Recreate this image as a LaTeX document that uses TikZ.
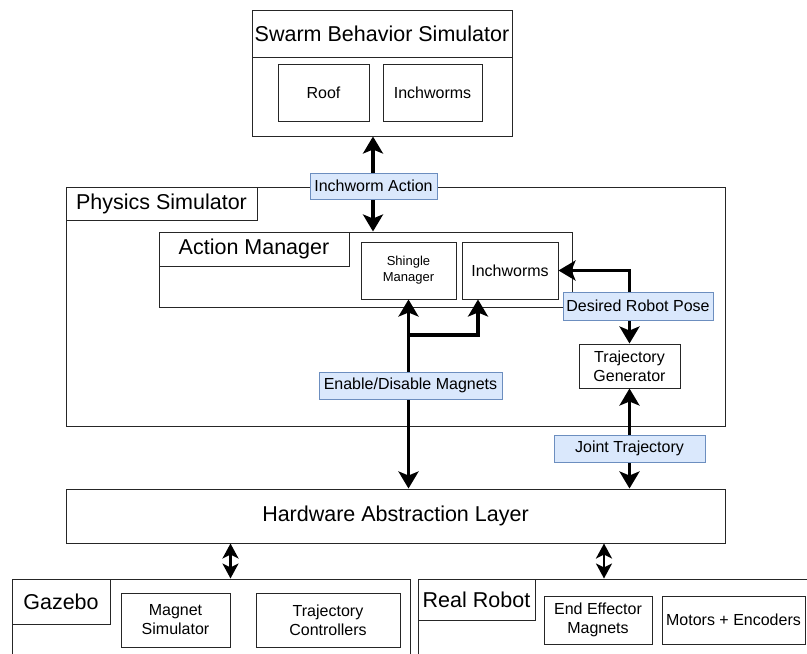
\documentclass[tikz,border=0pt]{standalone}
\usepackage{fontspec}
\setmainfont{Liberation Sans}
\usetikzlibrary{arrows.meta}
\definecolor{tagfill}{HTML}{DAE8FC}
\definecolor{tagline}{HTML}{6C8EBF}

\begin{document}
\begin{tikzpicture}[
x=1pt, y=-1pt,
box/.style={draw=black!85, line width=1pt, inner sep=0pt, align=center},
big/.style={font=\fontsize{21.5}{25}\selectfont},
small/.style={font=\fontsize{16}{19}\selectfont},
tag/.style={fill=tagfill, draw=tagline, line width=1pt, inner sep=0pt, minimum height=26pt, font=\fontsize{16}{19}\selectfont},
link/.style={line width=3.6pt, {Stealth[length=17pt,width=20pt,inset=4pt]}-{Stealth[length=17pt,width=20pt,inset=4pt]}},
linksmall/.style={line width=2.8pt, {Stealth[length=15pt,width=16pt,inset=4pt]}-{Stealth[length=15pt,width=16pt,inset=4pt]}},
]
\useasboundingbox (0,0) rectangle (807,654);
\clip (0,0) rectangle (807,654);

%% swarm layer
% nodes
\node[box, minimum width=260pt, minimum height=126pt] (swarm) at (382,73) {};
\node[box, big, minimum width=260pt, minimum height=47pt] (swarmtitle) at (382,33.5) {Swarm Behavior Simulator};
\node[box, small, minimum width=91pt, minimum height=57pt] (roof) at (323.5,92.5) {Roof};
\node[box, small, minimum width=99pt, minimum height=57pt] (swarmiw) at (432.5,92.5) {Inchworms};

%% physics simulator
% nodes
\node[box, minimum width=659pt, minimum height=239pt] (physics) at (395.5,306.5) {};
\node[box, big, minimum width=191pt, minimum height=33pt] (physicstitle) at (161.5,203.5) {Physics Simulator};
\node[box, minimum width=413pt, minimum height=75pt] (am) at (365.5,269.5) {};
\node[box, big, minimum width=190pt, minimum height=34pt] (amtitle) at (254,249) {Action Manager};
\node[box, font=\fontsize{13}{16}\selectfont, minimum width=95pt, minimum height=57pt] (shingle) at (408.5,270.5) {Shingle\\Manager};
\node[box, small, minimum width=96pt, minimum height=57pt] (iw) at (510,270.5) {Inchworms};
\node[box, small, minimum width=101pt, minimum height=44pt] (traj) at (629.5,366) {Trajectory\\Generator};

%% hardware layer
% nodes
\node[box, big, minimum width=659pt, minimum height=54pt] (hal) at (395.5,516) {Hardware Abstraction Layer};

\node[box, minimum width=398pt, minimum height=101pt] (gazebo) at (211,629.5) {};
\node[box, big, minimum width=98pt, minimum height=45pt] (gazebotitle) at (61,601.5) {Gazebo};
\node[box, small, minimum width=109pt, minimum height=54pt] (magsim) at (175.5,620) {Magnet\\Simulator};
\node[box, small, minimum width=144pt, minimum height=54pt] (trajctrl) at (328,620) {Trajectory\\Controllers};

\node[box, minimum width=412pt, minimum height=101pt] (robot) at (624,629.5) {};
\node[box, big, minimum width=117pt, minimum height=41pt] (robottitle) at (476.5,599.5) {Real Robot};
\node[box, small, minimum width=108pt, minimum height=48pt] (eem) at (598,620) {End Effector\\Magnets};
\node[box, small, minimum width=143pt, minimum height=48pt] (motors) at (733.5,620) {Motors + Encoders};

% arrows
\coordinate (actionlink) at ([xshift=-9pt]swarm.south);
\draw[link] (actionlink) -- (actionlink |- am.north);
\draw[link] (traj.north) |- (iw.east);
\draw[link] (shingle.south |- hal.north) -- (shingle.south);
\coordinate (fork) at (408.5,335);
\coordinate (iwlink) at ([xshift=-32pt]iw.south);
\draw[line width=3.6pt, -{Stealth[length=17pt,width=20pt,inset=4pt]}] (fork) -| (iwlink);
\draw[link] (traj.south) -- (traj.south |- hal.north);
\draw[linksmall] (magsim.north east |- hal.south) -- (magsim.north east |- gazebo.north);
\coordinate (robotlink) at ([xshift=6pt]eem.north);
\draw[linksmall] (robotlink |- hal.south) -- (robotlink |- robot.north);

% labels
\node[tag, minimum width=127pt] (actiontag) at (373.5,186) {Inchworm Action};
\node[tag, minimum width=150pt, minimum height=28pt] (posetag) at (638,306) {Desired Robot Pose};
\node[tag, minimum width=183pt, minimum height=27pt] (magnettag) at (410.5,385.5) {Enable/Disable Magnets};
\node[tag, minimum width=151pt, minimum height=27pt] (jointtag) at (629.5,448.5) {Joint Trajectory};
\end{tikzpicture}
\end{document}
